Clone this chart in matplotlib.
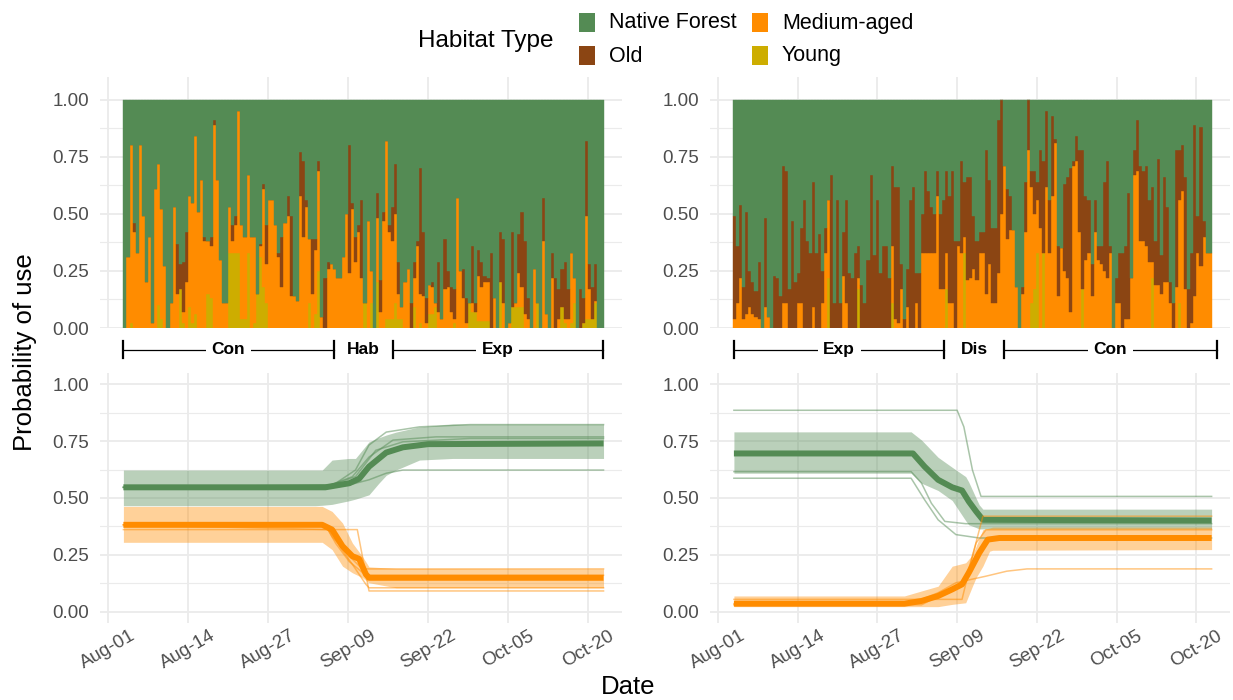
import numpy as np
import matplotlib
matplotlib.use("Agg")
import matplotlib.pyplot as plt
from matplotlib.patches import Rectangle

plt.rcParams['font.family'] = ['Liberation Sans', 'DejaVu Sans']

# --- data -------------------------------------------------------------
habitats = ['Native Forest', 'Old', 'Medium-aged', 'Young']
colours = {'Native Forest': '#548B54', 'Old': '#8B4513',
           'Medium-aged': '#FF8C00', 'Young': '#CDAD00'}

tick_days = [0, 13, 26, 39, 52, 65, 78]
tick_labels = ['Aug-01', 'Aug-14', 'Aug-27', 'Sep-09', 'Sep-22', 'Oct-05', 'Oct-20']
first_day, last_day = 2.5, 80.5

# top panels: cumulative levels (young, young+medium, young+medium+old), 12 h steps
left_young_top = [0, 0, .02, 0, 0, 0, 0, 0, 0, 0,
                  0, .10, .04, 0, 0, 0, 0, 0, .17, .02,
                  0, .09, .02, .06, 0, 0, 0, .15, .13, 0,
                  0, 0, 0, 0, .33, .33, .33, .33, .04, .04,
                  .33, 0, .02, .15, .31, .18, .11, 0, 0, 0,
                  0, 0, 0, 0, 0, 0, 0, 0, 0, 0,
                  .11, 0, .06, .25, 0, 0, 0, 0, 0, 0,
                  0, 0, 0, 0, 0, 0, 0, 0, .11, 0,
                  .11, 0, .20, 0, 0, .04, .04, .04, .11, .04,
                  .04, 0, 0, 0, .09, 0, .02, 0, 0, .06,
                  .06, .09, 0, 0, 0, 0, 0, .02, 0, 0,
                  0, 0, .11, .07, .07, .03, .03, .03, .03, 0,
                  0, 0, .20, 0, 0, 0, .09, .09, .09, .09,
                  0, 0, 0, 0, .11, 0, 0, 0, 0, 0,
                  0, 0, .09, .02, 0, .02, .11, 0, 0, .02,
                  .04, .04, .04, .11, 0, 0]
left_medium_top = [0, .31, .80, .42, .33, .80, .49, .20, .40, .02,
                   .61, .72, .52, .27, 0, .11, .53, .15, .17, .07,
                   .20, .58, .55, .84, .51, .65, .38, .38, .36, .89,
                   .65, .30, .11, .11, .53, .38, .45, .95, .45, .40,
                   .67, .40, .40, .15, .36, .61, .28, .56, .56, .45,
                   .31, .18, .46, .49, .14, .14, .12, .58, .40, .53,
                   .39, .15, .34, .69, .05, 0, .26, .28, .26, .22,
                   .22, .31, .50, .24, .52, .29, .42, .22, .11, .47,
                   .25, 0, .48, .07, .47, .82, .42, .38, .50, .15,
                   .09, .20, .26, 0, .22, .36, .15, .14, .02, .19,
                   .18, .11, .07, .04, .17, .18, .07, .04, .57, .25,
                   .13, .02, .11, .11, .07, .23, .18, .20, .20, 0,
                   .13, 0, .20, .11, 0, .02, .09, .11, .24, .18,
                   .06, .04, 0, .26, .11, 0, .38, .06, 0, .22,
                   0, .04, .09, .04, .04, .33, .22, 0, 0, .02,
                   .49, .17, .04, .12, 0, 0]
left_old_top = [0, .31, .80, .46, .33, .80, .49, .20, .40, .02,
                .61, .72, .52, .27, 0, .11, .53, .37, .28, .29,
                .42, .58, .55, .84, .51, .65, .40, .38, .40, .91,
                .65, .30, .11, .11, .53, .45, .49, .95, .45, .40,
                .67, .40, .40, .15, .37, .63, .45, .56, .56, .45,
                .33, .40, .46, .58, .49, .14, .12, .77, .73, .56,
                .39, .39, .39, .73, .05, .22, .29, .28, .26, .22,
                .22, .31, .50, .80, .55, .40, .45, .56, .11, .47,
                .25, 0, .59, .21, .51, .82, .45, .53, .72, .29,
                .09, .20, .26, .11, .29, .38, .70, .42, .13, .19,
                .20, .11, .29, .04, .39, .25, .18, .17, .57, .25,
                .26, .13, .11, .36, .11, .34, .29, .23, .22, .33,
                .13, 0, .42, .39, 0, .02, .42, .11, .41, .51,
                .38, .13, 0, .26, .11, 0, .57, .06, 0, .33,
                .22, .17, .26, .29, .17, .33, .22, 0, .17, .13,
                .82, .28, .18, .28, 0, 0]

right_young_top = [0] * 30 + \
    [0, .22, 0, 0, 0, 0, 0, 0, 0, 0,
     0, .17, 0, 0, 0, 0, 0, 0, 0, 0,
     0, 0, .11, 0, 0, 0, 0, 0, 0, 0] + [0] * 10 + \
    [.17, 0, 0, 0, 0, 0, .33, 0, 0, 0] + [0] * 10 + \
    [0, 0, 0, 0, 0, 0, 0, 0, .11, .17,
     .33, 0, .33, 0, 0, 0, 0, 0, 0, 0,
     0, 0, 0, 0, 0, .17, 0, 0, 0, 0] + [0] * 10 + \
    [0, 0, 0, 0, 0, 0, 0, 0, .22, 0,
     0, 0, 0, 0, 0, 0, 0, .11, 0, 0] + [0] * 8
right_medium_top = [.04, .11, .22, .04, .06, .09, .06, .05, .04, 0,
                    .09, .05, 0, 0, 0, 0, .11, .11, 0, 0,
                    0, .11, .11, 0, 0, 0, .09, 0, 0, .11,
                    .33, .56, 0, 0, 0, 0, .23, .11, 0, 0,
                    0, .22, 0, 0, 0, 0, 0, 0, 0, 0,
                    0, 0, .36, .04, .02, .17, 0, .09, 0, 0,
                    .11, 0, .33, .33, .33, .33, .33, .58, .17, .17,
                    .33, .11, .11, 0, .36, .33, .40, .21, .22, .26,
                    .21, .33, .33, .15, .28, .11, .11, .24, .50, .71,
                    .39, .43, .43, .18, 0, .15, .42, .78, .62, .50,
                    .56, .44, .33, .62, .33, .58, .81, .14, .35, .25,
                    .22, .07, .71, .73, .42, .17, .30, .33, .14, .42,
                    .30, .28, .25, .22, .33, 0, .11, .11, 0, .04,
                    .04, .22, .67, .69, .38, .38, .36, .29, .29, .19,
                    .19, .15, .20, .20, .11, 0, .18, .56, .60, .17,
                    0, .02, .14, .33, .27, .40, .33, .33]
right_old_top = [.49, .36, .54, .18, .51, .25, .20, .16, .29, 0,
                 .48, .05, 0, .23, .22, .14, .71, .69, .17, .47,
                 .20, .24, .44, .56, .38, .33, .64, .33, .41, .25,
                 .44, .56, .67, .11, .56, .11, .42, .56, .24, .22,
                 .33, .36, .19, .11, .30, .67, .32, .56, .24, .36,
                 .36, .22, .71, .62, .62, .28, .04, .26, .56, .62,
                 .24, .24, .50, .69, .60, .53, .50, .69, .50, .56,
                 .69, .58, .69, .38, .38, .73, .64, .66, .66, .49,
                 .38, .42, .42, .78, .65, .44, .44, .91, 1.0, .71,
                 .61, .58, .43, .18, 0, .18, .64, 1.0, .69, .69,
                 .64, .78, .73, .95, .56, .93, .83, .36, .35, .63,
                 .66, .70, .73, .84, .78, .78, .58, .56, .28, .56,
                 .36, .36, .64, .73, .36, 0, .22, .33, .33, .36,
                 .59, .22, .78, .91, .71, .69, .71, .56, .62, .38,
                 .74, .32, .66, .53, .20, .11, .78, .78, .80, .66,
                 .17, .33, .89, .49, .88, .47, .33, .33]

# phase brackets (day boundaries)
left_phase_edges = [2.4, 36.7, 46.3, 80.4]
left_phases = ['Con', 'Hab', 'Exp']
right_phase_edges = [2.6, 36.9, 46.7, 81.3]
right_phases = ['Exp', 'Dis', 'Con']

# bottom left: fitted probability of use
bl_native_days = [2.5, 35.3, 39.2, 40.8, 42.4, 45.2, 47.9, 52.0, 80.5]
bl_native_mean = [.547, .547, .565, .585, .638, .70, .723, .737, .74]
bl_native_band_days = [2.5, 33.7, 34.8, 36.4, 39.2, 40.2, 42.4, 44.0, 45.2, 46.8, 50.6, 56.0, 80.5]
bl_native_lower = [.466, .466, .468, .472, .488, .495, .514, .565, .60, .623, .667, .674, .674]
bl_native_upper = [.623, .623, .623, .667, .674, .674, .747, .765, .777, .79, .813, .825, .825]
bl_native_ind = [
    ([2.5, 35.3, 37.0, 40.2, 42.4, 45.2, 50.6, 58.8, 80.5], [.547, .547, .565, .623, .733, .79, .813, .823, .823]),
    ([2.5, 35.3, 39.2, 42.4, 45.2, 47.9, 80.5], [.547, .547, .558, .58, .609, .623, .623]),
    ([2.5, 35.9, 39.7, 42.4, 46.3, 53.3, 80.5], [.547, .555, .594, .68, .755, .769, .769]),
    ([2.5, 36.4, 40.2, 43.5, 47.9, 58.8, 80.5], [.547, .558, .594, .71, .747, .762, .762]),
]
bl_medium_days = [2.5, 34.8, 36.4, 38.1, 39.7, 40.8, 41.9, 42.4, 80.5]
bl_medium_mean = [.382, .382, .361, .288, .244, .232, .164, .149, .149]
bl_medium_band_days = [2.5, 34.8, 36.4, 38.1, 39.7, 41.3, 42.4, 46.8, 80.5]
bl_medium_upper = [.463, .463, .441, .39, .302, .244, .197, .19, .188]
bl_medium_lower = [.305, .305, .273, .20, .171, .15, .127, .105, .105]
bl_medium_ind = [
    ([2.5, 40.5, 42.4, 80.5], [.361, .361, .091, .091]),
    ([2.5, 35.3, 36.4, 39.2, 41.3, 80.5], [.382, .382, .33, .244, .188, .188]),
    ([2.5, 35.9, 38.1, 39.7, 41.9, 42.4, 80.5], [.382, .361, .27, .208, .12, .105, .105]),
    ([2.5, 35.3, 37.0, 39.2, 41.9, 80.5], [.382, .382, .30, .22, .16, .16]),
]

# bottom right
br_native_days = [2.6, 31.8, 33.7, 35.9, 38.2, 39.8, 40.9, 42.1, 43.2, 80.5]
br_native_mean = [.696, .696, .638, .58, .547, .533, .485, .441, .404, .401]
br_native_band_days = [2.6, 31.5, 33.2, 35.9, 38.2, 40.4, 40.9, 42.1, 42.6, 43.2, 80.5]
br_native_upper = [.791, .791, .755, .679, .635, .594, .57, .499, .47, .451, .451]
br_native_lower = [.609, .609, .565, .533, .489, .40, .382, .37, .364, .364, .364]
br_native_ind = [
    ([2.6, 39.0, 40.1, 41.5, 42.9, 80.5], [.886, .886, .813, .623, .507, .507]),
    ([2.6, 31.5, 33.2, 34.8, 37.0, 40.4, 80.5], [.616, .616, .565, .477, .397, .387, .387]),
    ([2.6, 31.5, 33.7, 35.9, 38.8, 42.6, 80.5], [.587, .587, .492, .404, .339, .324, .324]),
]
br_medium_days = [2.6, 30.4, 33.2, 35.9, 38.2, 39.8, 40.9, 42.6, 44.0, 45.9, 80.5]
br_medium_mean = [.035, .035, .047, .069, .098, .12, .171, .258, .317, .324, .324]
br_medium_band_days = [2.6, 30.4, 33.2, 35.9, 38.2, 40.4, 41.5, 42.1, 43.2, 44.3, 44.8, 80.5]
br_medium_upper = [.069, .069, .091, .112, .20, .215, .25, .288, .361, .368, .372, .372]
br_medium_lower = [.022, .022, .022, .022, .032, .039, .112, .15, .20, .266, .27, .273]
br_medium_ind = [
    ([2.6, 31.5, 35.9, 38.8, 43.7, 47.1, 50.4, 80.5], [.035, .035, .083, .127, .156, .178, .188, .188]),
    ([2.6, 39.8, 41.5, 43.2, 80.5], [.054, .054, .244, .42, .42]),
    ([2.6, 33.2, 37.0, 40.4, 42.1, 43.7, 80.5], [.03, .03, .083, .142, .302, .36, .36]),
]

# --- figure -------------------------------------------------------------
W, H = 1233, 700
fig = plt.figure(figsize=(W / 100, H / 100), dpi=100)
fig.patch.set_facecolor('white')

XLIM = (-1.3, 83.5)
GRID = '#EBEBEB'
TXT = '#4D4D4D'


def px_axes(x0, y0, x1, y1):
    return fig.add_axes([x0 / W, 1 - y1 / H, (x1 - x0) / W, (y1 - y0) / H])


def style(ax, ylim, xlabels):
    ax.set_xlim(*XLIM)
    ax.set_ylim(*ylim)
    for s in ax.spines.values():
        s.set_visible(False)
    ax.set_axisbelow(True)
    ax.set_xticks(tick_days)
    ax.set_yticks([0, .25, .5, .75, 1.0])
    ax.set_yticks([.125, .375, .625, .875], minor=True)
    ax.set_yticklabels(['0.00', '0.25', '0.50', '0.75', '1.00'])
    ax.grid(which='major', color=GRID, lw=1.3)
    ax.grid(which='minor', axis='y', color=GRID, lw=0.8)
    ax.tick_params(which='both', length=0, labelsize=13.5, labelcolor=TXT)
    ax.tick_params(axis='y', pad=8)
    if xlabels:
        ax.set_xticklabels(tick_labels, rotation=30, ha='center')
        ax.tick_params(axis='x', pad=3)
    else:
        ax.tick_params(axis='x', labelbottom=False)


def draw_bars(ax, young, medium, old):
    young = np.array(young, dtype=float)
    medium = np.maximum(np.array(medium, dtype=float), young)
    old = np.maximum(np.array(old, dtype=float), medium)
    n = len(young)
    w = (last_day - first_day) / n
    x = first_day + w * np.arange(n)
    parts = [('Young', young), ('Medium-aged', medium - young),
             ('Old', old - medium), ('Native Forest', 1 - old)]
    bottom = np.zeros(n)
    for name, h in parts:
        ax.bar(x, h, width=w, bottom=bottom, align='edge',
               color=colours[name], edgecolor=colours[name], linewidth=0.3)
        bottom = bottom + h


def draw_phases(ax, edges, names):
    y = -0.096
    for a, b, name in zip(edges[:-1], edges[1:], names):
        if b - a > 15:
            ax.plot([a, b], [y, y], color='black', lw=0.9, clip_on=False)
        ax.text((a + b) / 2, y, name, ha='center', va='center', fontsize=12.5,
                fontweight='bold', clip_on=False,
                bbox=dict(facecolor='white', edgecolor='none', pad=4))
    for e in edges:
        ax.plot([e, e], [-0.058, -0.133], color='black', lw=1.6, clip_on=False)


def draw_fit(ax, days, mean, band_days, lower, upper, indiv, col):
    ax.fill_between(band_days, lower, upper, color=col, alpha=0.4, lw=0)
    for d, v in indiv:
        ax.plot(d, v, color=col, alpha=0.5, lw=1.1)
    ax.plot(days, mean, color=col, lw=4.3, solid_capstyle='butt')


ax_tl = px_axes(100, 77, 622, 328)
ax_tr = px_axes(710, 77, 1230, 328)
ax_bl = px_axes(100, 373, 622, 623)
ax_br = px_axes(710, 373, 1230, 623)

for ax in (ax_tl, ax_tr):
    style(ax, (0, 1.1), False)
for ax in (ax_bl, ax_br):
    style(ax, (-0.05, 1.05), True)

draw_bars(ax_tl, left_young_top, left_medium_top, left_old_top)
draw_bars(ax_tr, right_young_top, right_medium_top, right_old_top)
draw_phases(ax_tl, left_phase_edges, left_phases)
draw_phases(ax_tr, right_phase_edges, right_phases)

green = colours['Native Forest']
orange = colours['Medium-aged']
draw_fit(ax_bl, bl_native_days, bl_native_mean, bl_native_band_days,
         bl_native_lower, bl_native_upper, bl_native_ind, green)
draw_fit(ax_bl, bl_medium_days, bl_medium_mean, bl_medium_band_days,
         bl_medium_lower, bl_medium_upper, bl_medium_ind, orange)
draw_fit(ax_br, br_native_days, br_native_mean, br_native_band_days,
         br_native_lower, br_native_upper, br_native_ind, green)
draw_fit(ax_br, br_medium_days, br_medium_mean, br_medium_band_days,
         br_medium_lower, br_medium_upper, br_medium_ind, orange)

# axis titles
fig.text(25 / W, 1 - 352 / H, 'Probability of use', rotation=90,
         ha='center', va='center', fontsize=18.5)
fig.text(628 / W, 1 - 687 / H, 'Date', ha='center', va='center', fontsize=18.5)

# legend
fig.text(418 / W, 1 - 41 / H, 'Habitat Type', ha='left', va='center', fontsize=17.5)
key_pos = {'Native Forest': (579, 13), 'Old': (579, 46),
           'Medium-aged': (752, 13), 'Young': (752, 46)}
for name in habitats:
    kx, ky = key_pos[name]
    fig.add_artist(Rectangle((kx / W, 1 - (ky + 19) / H), 16 / W, 19 / H,
                             transform=fig.transFigure, facecolor=colours[name],
                             edgecolor='none'))
    fig.text((kx + 30) / W, 1 - (ky + 10) / H, name, ha='left', va='center',
             fontsize=15.5)

fig.savefig('out.png', dpi=100, facecolor='white')
